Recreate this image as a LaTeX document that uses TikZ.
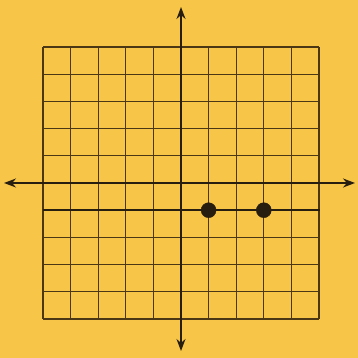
\documentclass[tikz,border=0pt]{standalone}
\usetikzlibrary{arrows.meta}
\definecolor{bgyellow}{RGB}{247,197,72}
\definecolor{ink}{RGB}{40,30,15}
\definecolor{gridink}{RGB}{75,55,20}
\tikzset{
  gridline/.style={draw=gridink, line width=1.3pt},
  axisline/.style={draw=ink, line width=1.6pt, -{Stealth[length=12pt,width=9pt]}},
  thickline/.style={draw=ink, line width=2.4pt},
  ptdot/.style={circle, fill=ink, draw=ink, inner sep=0pt, minimum size=15pt}
}
\begin{document}
\begin{tikzpicture}[x=1pt,y=1pt]
\fill[bgyellow] (0,0) rectangle (358,358);
\useasboundingbox (0,0) rectangle (358,358);
% grid
\foreach \i in {0,...,10} {
  \draw[gridline] ({43+27.6*\i},39) -- ({43+27.6*\i},311);
  \draw[gridline] (43,{39+27.2*\i}) -- (319,{39+27.2*\i});
}
% axes
\coordinate (ytop) at (181,351);
\coordinate (ybot) at (181,7);
\coordinate (xleft) at (4,175);
\coordinate (xright) at (355,175);
\coordinate (o) at (181,175);
\draw[axisline] (o) -- (ytop);
\draw[axisline] (o) -- (ybot);
\draw[axisline] (o) -- (xleft);
\draw[axisline] (o) -- (xright);
% line y=-1
\coordinate (la) at (43,147.8);
\coordinate (lb) at (320,147.8);
\draw[thickline] (la) -- (lb);
\node[ptdot] (p1) at (208.6,147.8) {};
\node[ptdot] (p2) at (263.8,147.8) {};
\end{tikzpicture}
\end{document}
